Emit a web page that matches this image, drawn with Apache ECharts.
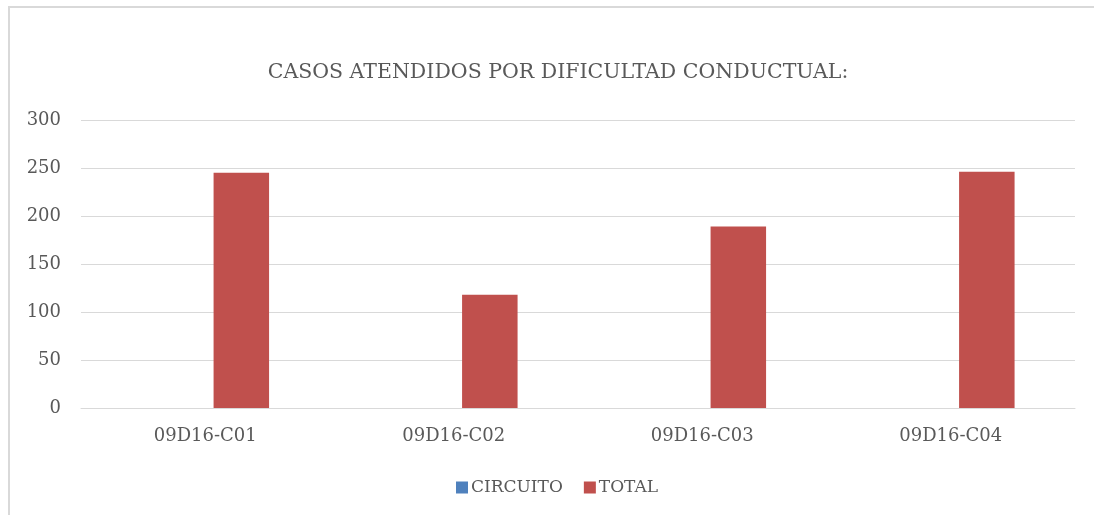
<!DOCTYPE html>
<html>
<head>
<meta charset="utf-8">
<script src="https://cdn.jsdelivr.net/npm/echarts@6/dist/echarts.min.js"></script>
<style>
  html, body { margin: 0; padding: 0; background: #fff; overflow: hidden; }
  #chart { width: 1094px; height: 515px; }
</style>
</head>
<body>
<div id="chart"></div>
<script>
const categories = ['09D16-C01', '09D16-C02', '09D16-C03', '09D16-C04'];
const circuitoValues = [0, 0, 0, 0];
const totalValues = [245, 118, 189, 246];
const yTicks = { min: 0, max: 300, interval: 50 };
const titleText = 'CASOS ATENDIDOS POR DIFICULTAD CONDUCTUAL:';

const font = 'DejaVu Serif';
const chart = echarts.init(document.getElementById('chart'));
chart.setOption({
  backgroundColor: '#fff',
  animation: false,
  graphic: [
    { type: 'line', shape: { x1: 9, y1: 6, x2: 9, y2: 515 }, style: { stroke: '#d9d9d9', lineWidth: 2 }, silent: true },
    { type: 'line', shape: { x1: 8, y1: 7, x2: 1094, y2: 7 }, style: { stroke: '#d9d9d9', lineWidth: 2 }, silent: true }
  ],
  title: {
    text: titleText,
    left: 553,
    top: 57,
    textAlign: 'center',
    textStyle: { fontFamily: font, fontSize: 20.5, fontWeight: 'normal', color: '#595959' }
  },
  legend: {
    data: ['CIRCUITO', 'TOTAL'],
    left: 456,
    top: 479,
    padding: 0,
    itemWidth: 12,
    itemHeight: 12,
    itemGap: 21,
    icon: 'rect',
    textStyle: { fontFamily: font, fontSize: 17, color: '#595959', padding: [0, 0, 0, -2] }
  },
  grid: { left: 81, right: 19, top: 120, bottom: 107, containLabel: false },
  xAxis: {
    type: 'category',
    data: categories,
    axisLine: { lineStyle: { color: '#d9d9d9', width: 1 } },
    axisTick: { show: false },
    axisLabel: { fontFamily: font, fontSize: 18, color: '#595959', margin: 19 }
  },
  yAxis: {
    type: 'value',
    min: yTicks.min,
    max: yTicks.max,
    interval: yTicks.interval,
    axisLine: { show: false },
    axisTick: { show: false },
    splitLine: { lineStyle: { color: '#d9d9d9', width: 1 } },
    axisLabel: { fontFamily: font, fontSize: 18, color: '#595959', margin: 20 }
  },
  series: [
    { name: 'CIRCUITO', type: 'bar', data: circuitoValues, barWidth: 55.5, barGap: '30%',
      itemStyle: { color: '#4f81bd' } },
    { name: 'TOTAL', type: 'bar', data: totalValues, barWidth: 55.5, barGap: '30%',
      itemStyle: { color: '#c0504d' } }
  ]
});
</script>
</body>
</html>
